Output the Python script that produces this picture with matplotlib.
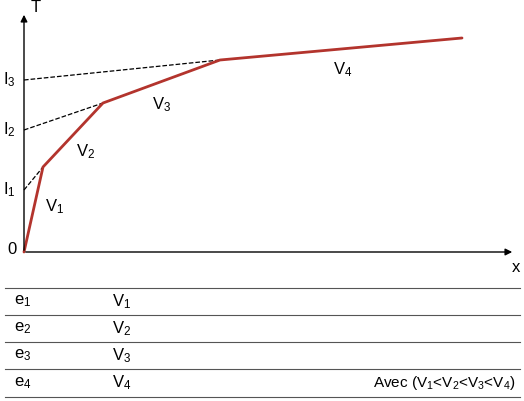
import matplotlib
matplotlib.use('Agg')
import matplotlib.pyplot as plt

plt.rcParams['font.family'] = ['Liberation Sans', 'DejaVu Sans']
plt.rcParams['mathtext.fontset'] = 'custom'
plt.rcParams['mathtext.rm'] = 'Liberation Sans'
plt.rcParams['mathtext.it'] = 'Liberation Sans'

# break points of the curve (x, T), in picture units
curve_x = [24, 43, 103, 220, 462]
curve_t = [252, 167, 103, 60, 38]
# intercepts of the dashed tangent lines on the T axis
intercepts = [190, 130, 80]
intercept_labels = ['I$_1$', 'I$_2$', 'I$_3$']
slope_labels = ['V$_1$', 'V$_2$', 'V$_3$', 'V$_4$']
slope_pos = [(45, 207), (76, 152), (152, 105), (333, 70)]
rows_e = ['e$_1$', 'e$_2$', 'e$_3$', 'e$_4$']
rows_v = ['V$_1$', 'V$_2$', 'V$_3$', 'V$_4$']
row_lines = [288, 315, 342, 369, 397]

fig = plt.figure(figsize=(5.24, 4.01), dpi=100)
ax = fig.add_axes([0, 0, 1, 1])
ax.set_xlim(0, 524)
ax.set_ylim(401, 0)
ax.axis('off')

# axes with arrows
ax.annotate('', xy=(24, 12), xytext=(24, 253),
            arrowprops=dict(arrowstyle='-|>', color='black', lw=1, mutation_scale=10))
ax.annotate('', xy=(515, 252), xytext=(23, 252),
            arrowprops=dict(arrowstyle='-|>', color='black', lw=1, mutation_scale=10))
ax.text(36, 8, 'T', fontsize=12, ha='center', va='center')
ax.text(516, 267, 'x', fontsize=12, ha='center', va='center')
ax.text(12, 249, '0', fontsize=12, ha='center', va='center')

for i, y0 in enumerate(intercepts):
    ax.plot([24, curve_x[i + 1]], [y0, curve_t[i + 1]], '--', color='black', lw=0.9)
    ax.text(9, y0, intercept_labels[i], fontsize=12, ha='center', va='center')

ax.plot(curve_x, curve_t, color='#b3342d', lw=2, solid_capstyle='round')

for lab, (x, y) in zip(slope_labels, slope_pos):
    ax.text(x, y, lab, fontsize=12, va='center')

for y in row_lines:
    ax.plot([5, 520], [y, y], color='#555555', lw=0.8)
for i in range(4):
    yc = (row_lines[i] + row_lines[i + 1]) / 2
    ax.text(14, yc, rows_e[i], fontsize=12, va='center')
    ax.text(112, yc, rows_v[i], fontsize=12, va='center')
ax.text(516, (row_lines[3] + row_lines[4]) / 2,
        'Avec (V$_1$<V$_2$<V$_3$<V$_4$)', fontsize=11, ha='right', va='center')

fig.savefig('out.png', dpi=100)
